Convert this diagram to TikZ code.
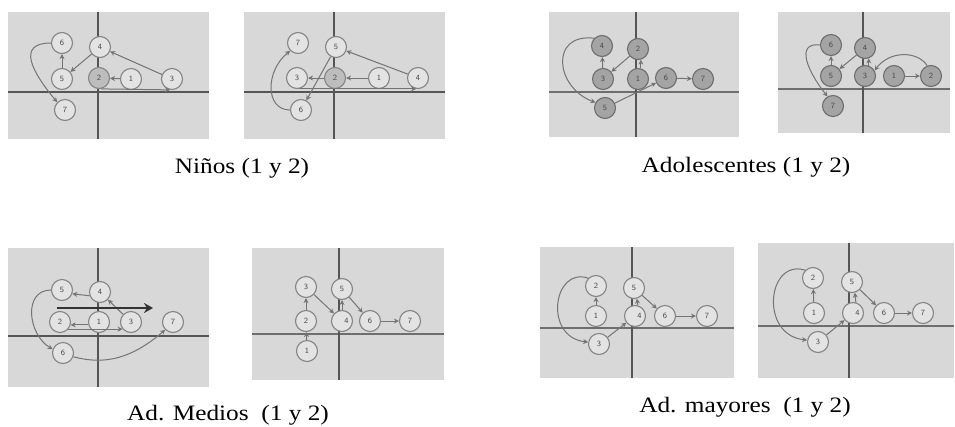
\documentclass[tikz,border=0pt]{standalone}
\usepackage{fontspec}
\setmainfont{Liberation Serif}
\usetikzlibrary{arrows.meta,positioning}
\definecolor{panelgray}{HTML}{D8D8D8}
\definecolor{axisgray}{HTML}{555555}
\definecolor{statefill}{HTML}{E3E3E3}
\definecolor{stateedge}{HTML}{858585}
\definecolor{midfill}{HTML}{BDBDBD}
\definecolor{darkfill}{HTML}{A4A4A4}
\definecolor{darkedge}{HTML}{6E6E6E}
\definecolor{numgray}{HTML}{4A4A4A}
\definecolor{linegray}{HTML}{747474}

\begin{document}
\begin{tikzpicture}[x=1pt,y=-1pt,
				panel/.style ={fill=panelgray, draw=none},
				axis/.style ={draw=axisgray, line width=1.1pt},
				thickaxis/.style ={draw=axisgray!85, line width=2pt},
				state/.style ={circle, draw=stateedge, fill=statefill, line width=1.1pt,
					minimum size=21pt, inner sep=0pt,
					font=\sffamily\fontsize{8}{8}\selectfont, text=numgray},
				statemid/.style ={state, fill=midfill},
				statedark/.style ={state, fill=darkfill, draw=darkedge},
				caption/.style ={anchor=base, font=\fontsize{22}{22}\selectfont},
				line/.style ={draw=linegray, line width=1pt, -{Stealth[length=5pt,width=5pt]}},
				trend/.style ={draw=black!80, line width=2.5pt, -{Stealth[length=9pt,width=10pt]}}]
	\useasboundingbox[fill=white] (0,0) rectangle (955,426);
	% backgrounds and axes
	\path[panel] (8,12) rectangle (209,139);
	\path[panel] (244,12) rectangle (445,139);
	\path[panel] (549,12) rectangle (739,137);
	\path[panel] (778,12) rectangle (950,133);
	\path[panel] (8,248) rectangle (209,387);
	\path[panel] (252,248) rectangle (444,380);
	\path[panel] (540,247) rectangle (734,378);
	\path[panel] (758,243) rectangle (954,378);
	\draw[axis] (8,92) -- (209,92);      \draw[axis] (98,12) -- (98,139);
	\draw[axis] (244,92) -- (445,92);    \draw[axis] (334,12) -- (334,139);
	\draw[thickaxis] (549,92) -- (739,92); \draw[axis] (636,12) -- (636,137);
	\draw[thickaxis] (778,89) -- (950,89); \draw[axis] (863,12) -- (863,133);
	\draw[axis] (8,336) -- (209,336);    \draw[axis] (98,248) -- (98,387);
	\draw[thickaxis] (252,334) -- (444,334); \draw[axis] (339,248) -- (339,380);
	\draw[thickaxis] (540,328) -- (734,328); \draw[axis] (632,247) -- (632,378);
	\draw[thickaxis] (758,326) -- (954,326); \draw[axis] (849,243) -- (849,378);
	% Ninos - 1
	\node [state] (a6) at (62,43) {6};
	\node [state] (a4) at (100,47) {4};
	\node [state] (a5) at (62,79) {5};
	\node [statemid] (a2) at (99,78) {2};
	\node [state] (a1) at (131,79) {1};
	\node [state] (a3) at (172,79) {3};
	\node [state] (a7) at (65,110) {7};
	% Ninos - 2
	\node [state] (b7) at (298,43) {7};
	\node [state] (b5) at (336,47) {5};
	\node [state] (b3) at (297,78) {3};
	\node [statemid] (b2) at (335,78) {2};
	\node [state] (b1) at (379,78) {1};
	\node [state] (b4) at (418,78) {4};
	\node [state] (b6) at (301,110) {6};
	% Adolescentes - 1
	\node [statedark] (c4) at (602,46) {4};
	\node [statedark] (c2) at (638,49) {2};
	\node [statedark] (c3) at (603,79) {3};
	\node [statedark] (c1) at (638,79) {1};
	\node [statedark] (c6) at (666,78) {6};
	\node [statedark] (c7) at (703,79) {7};
	\node [statedark] (c5) at (605,108) {5};
	% Adolescentes - 2
	\node [statedark] (d6) at (831,45) {6};
	\node [statedark] (d4) at (865,48) {4};
	\node [statedark] (d5) at (831,76) {5};
	\node [statedark] (d3) at (865,76) {3};
	\node [statedark] (d1) at (894,76) {1};
	\node [statedark] (d2) at (931,76) {2};
	\node [statedark] (d7) at (833,106) {7};
	% Ad. Medios - 1
	\node [state] (e5) at (62,290) {5};
	\node [state] (e4) at (100,292) {4};
	\node [state] (e2) at (60,322) {2};
	\node [state] (e1) at (99,322) {1};
	\node [state] (e3) at (131,322) {3};
	\node [state] (e7) at (173,322) {7};
	\node [state] (e6) at (63,353) {6};
	\coordinate (trendstart) at (57,308);
	\coordinate (trendend) at (153,308);
	% Ad. Medios - 2
	\node [state] (f3) at (306,287) {3};
	\node [state] (f5) at (342,289) {5};
	\node [state] (f2) at (306,321) {2};
	\node [state] (f4) at (342,321) {\hspace*{9pt}4};
	\node [state] (f6) at (370,321) {6};
	\node [state] (f7) at (410,321) {7};
	\node [state] (f1) at (307,351) {1};
	% Ad. mayores - 1
	\node [state] (g2) at (596,286) {2};
	\node [state] (g5) at (634,288) {5};
	\node [state] (g1) at (596,316) {1};
	\node [state] (g4) at (635,316) {\hspace*{9pt}4};
	\node [state] (g6) at (665,316) {6};
	\node [state] (g7) at (707,316) {7};
	\node [state] (g3) at (599,344) {3};
	% Ad. mayores - 2
	\node [state] (h2) at (813,278) {2};
	\node [state] (h5) at (852,282) {5};
	\node [state] (h1) at (814,313) {1};
	\node [state] (h4) at (853,313) {\hspace*{9pt}4};
	\node [state] (h6) at (884,313) {6};
	\node [state] (h7) at (923,313) {7};
	\node [state] (h3) at (818,342) {3};
	% captions
	\node [caption] (capninos) at (242,173) {\scalebox{1.15}[1]{Niños (1 y 2)}};
	\node [caption] (capadol) at (746,172) {\scalebox{1.15}[1]{Adolescentes (1 y 2)}};
	\node [caption] (capmedios) at (228,420) {\scalebox{1.15}[1]{Ad. Medios\ \ (1 y 2)}};
	\node [caption] (capmayores) at (745,412) {\scalebox{1.15}[1]{Ad. mayores\ \ (1 y 2)}};
	% connecting nodes with paths
	\begin{scope}[every path/.style=line]
		% Ninos
		\path (a1) -- (a2);
		\path (a2.-80) -- (a3.-100);
		\path (a3) -- (a4);
		\path (a4) -- (a5);
		\path (a5) -- (a6);
		\path (a6.west) .. controls +(-35,0) and +(-25,-30) .. (a7.135);
		\path (b1) -- (b2);
		\path (b2) -- (b3);
		\path (b3.-80) -- (b4.-100);
		\path (b4) -- (b5);
		\path (b5) -- (b6);
		\path (b6.west) .. controls +(-25,0) and +(-25,20) .. (b7.south west);
		% Adolescentes
		\path (c1.75) -- (c2.-75);
		\path (c2) -- (c3);
		\path (c3) -- (c4);
		\path (c4.135) .. controls +(-45,-5) and +(-40,-15) .. (c5.150);
		\path (c5) -- (c6);
		\path (c6) -- (c7);
		\path (d1) -- (d2);
		\path (d2.110) .. controls +(-10,-15) and +(15,-20) .. (d3.30);
		\path (d3.70) -- (d4.-70);
		\path (d4) -- (d5);
		\path (d5) -- (d6);
		\path (d6.west) .. controls +(-25,-3) and +(-20,-25) .. (d7.120);
		% Ad. Medios
		\path (e1.195) -- (e2.-15);
		\path (e2.-40) -- (e3.-140);
		\path (e3) -- (e4);
		\path (e4.200) -- (e5.-20);
		\path (e5.west) .. controls +(-28,0) and +(-25,-15) .. (e6.160);
		\path (e6.-20) .. controls +(30,8) and +(-35,30) .. (e7.-135);
		\path (f1) -- (f2);
		\path (f2) -- (f3);
		\path (f3) -- (f4);
		\path (f4) -- (f5);
		\path (f5) -- (f6);
		\path (f6) -- (f7);
		% Ad. mayores
		\path (g1) -- (g2);
		\path (g2.135) .. controls +(-35,-12) and +(-45,-5) .. (g3.170);
		\path (g3) -- (g4);
		\path (g4.75) -- (g5.-75);
		\path (g5) -- (g6);
		\path (g6) -- (g7);
		\path (h1) -- (h2);
		\path (h2.135) .. controls +(-38,-12) and +(-48,-5) .. (h3.170);
		\path (h3) -- (h4);
		\path (h4.75) -- (h5.-75);
		\path (h5) -- (h6);
		\path (h6) -- (h7);
	\end{scope}
	\draw[trend] (trendstart) -- (trendend);
\end{tikzpicture}
\end{document}
